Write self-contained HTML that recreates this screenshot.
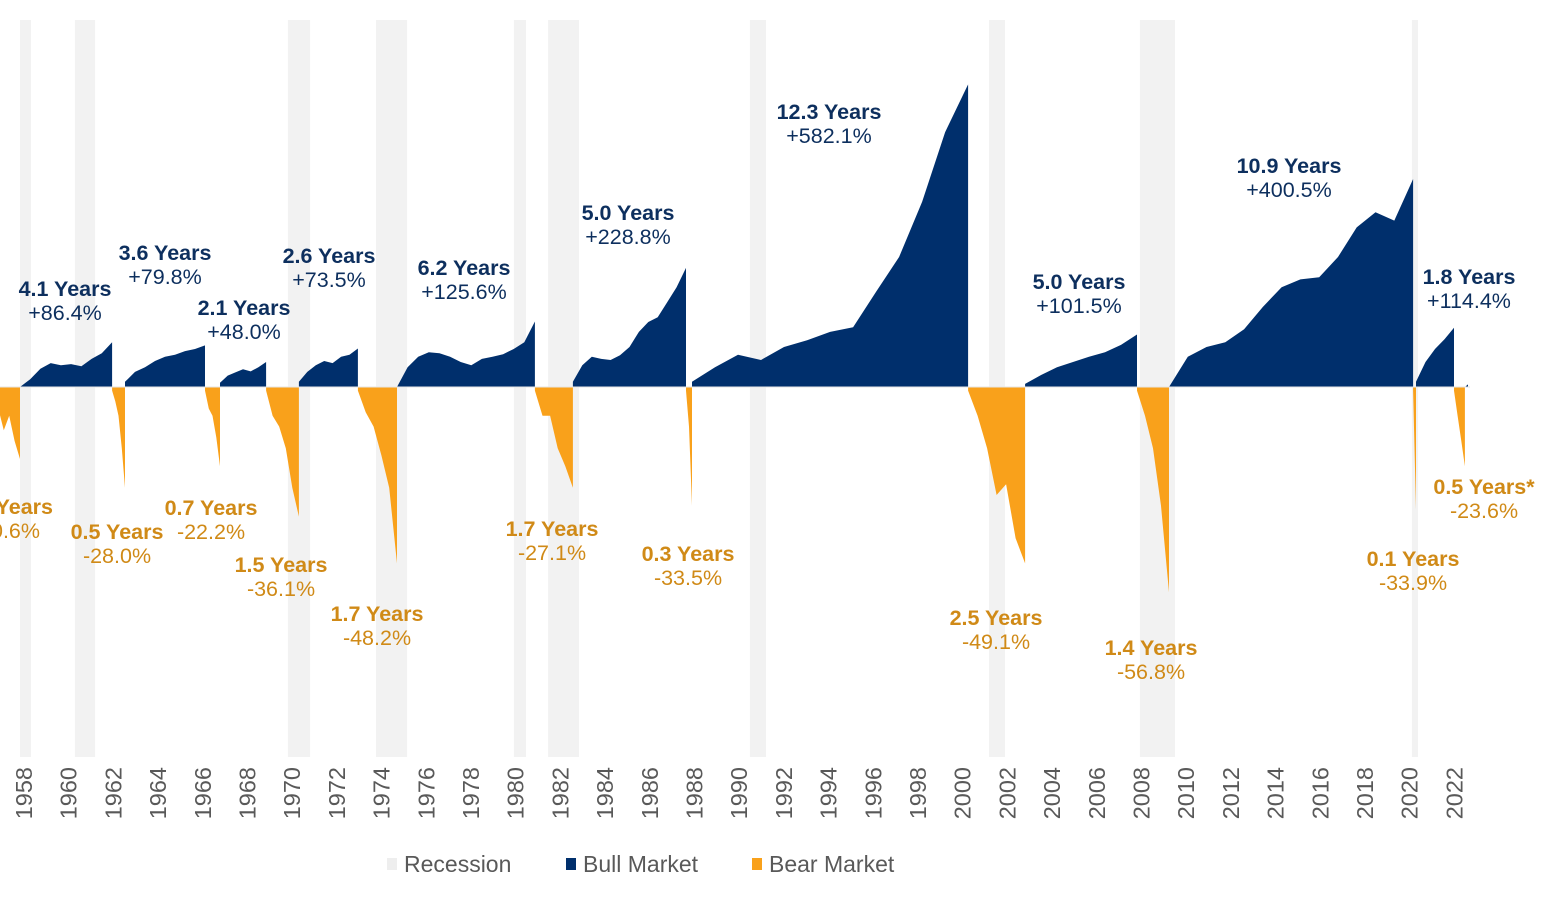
<!DOCTYPE html>
<html><head><meta charset="utf-8"><style>
html,body{margin:0;padding:0;background:#fff;}
svg{display:block;font-family:"Liberation Sans",Arial,sans-serif;}
</style></head><body>
<svg id="chart" width="1552" height="898" viewBox="0 0 1552 898" xmlns="http://www.w3.org/2000/svg">
<g id="bands"></g>
<g id="marks"></g>
<g id="labels"></g>
<g id="xaxis"></g>
<g>
  <rect x="387" y="858" width="10" height="12" fill="#eeeeee"/>
  <text x="404" y="872" font-size="23" fill="#595959">Recession</text>
  <rect x="566" y="858" width="10" height="12" fill="#002f6c"/>
  <text x="583" y="872" font-size="23" fill="#595959">Bull Market</text>
  <rect x="752" y="858" width="10" height="12" fill="#f9a11b"/>
  <text x="769" y="872" font-size="23" fill="#595959">Bear Market</text>
</g>
</svg>
<script>
const recessionStarts = [1957.82,1960.28,1969.81,1973.75,1979.92,1981.45,1990.48,2001.18,2007.93,2020.10];
const recessionEnds   = [1958.31,1961.18,1970.80,1975.14,1980.46,1982.83,1991.20,2001.89,2009.50,2020.37];

const bullStarts = [1957.82,1962.52,1966.77,1970.30,1974.69,1982.56,1987.89,2002.79,2009.23,2020.28,2022.47];
const bullEnds   = [1961.94,1966.10,1968.83,1972.94,1980.86,1987.62,2000.24,2007.80,2020.15,2021.98,2022.61];
const bullValues = [
  [0,15,35,46,42,44,40,54,65,86],
  [10,29,38,50,58,62,69,73,80],
  [8,22,28,34,30,38,48],
  [10,29,42,50,46,58,62,74],
  [0,38,58,67,65,58,48,42,54,58,63,73,86,126],
  [10,42,58,54,52,61,77,106,125,134,163,192,229],
  [10,38,62,52,77,90,106,115,183,250,356,490,582],
  [6,23,38,48,58,67,81,101],
  [0,58,77,86,111,154,192,207,211,250,307,336,320,400],
  [10,48,73,92,114],
  [0,5]
];
const bearStarts = [1956.61,1961.94,1966.10,1968.83,1972.94,1980.86,1987.62,2000.24,2007.80,2020.15,2021.98];
const bearEnds   = [1957.82,1962.52,1966.77,1970.30,1974.69,1982.56,1987.89,2002.79,2009.23,2020.28,2022.47];
const bearValues = [
  [0,-6,-12,-8,-15,-20],
  [-1,-4,-8,-17,-28],
  [-1,-6,-8,-14,-22],
  [-1,-8,-11,-17,-28,-36],
  [-1,-7,-11,-19,-28,-49],
  [-1,-8,-8,-17,-22,-28],
  [-1,-11,-33],
  [-1,-8,-17,-30,-27,-42,-49],
  [-1,-8,-17,-33,-57],
  [-1,-34],
  [-1,-8,-15,-22]
];
const tickYears = [1958,1960,1962,1964,1966,1968,1970,1972,1974,1976,1978,1980,1982,1984,1986,1988,1990,1992,1994,1996,1998,2000,2002,2004,2006,2008,2010,2012,2014,2016,2018,2020,2022];

const bullLabelYears = ["4.1 Years","3.6 Years","2.1 Years","2.6 Years","6.2 Years","5.0 Years","12.3 Years","5.0 Years","10.9 Years","1.8 Years"];
const bullLabelPcts  = ["+86.4%","+79.8%","+48.0%","+73.5%","+125.6%","+228.8%","+582.1%","+101.5%","+400.5%","+114.4%"];
const bullLabelX = [65,165,244,329,464,628,829,1079,1289,1469];
const bullLabelY = [289,253,308,256,268,213,112,282,166,277];
const bearLabelYears = ["1.3 Years","0.5 Years","0.7 Years","1.5 Years","1.7 Years","1.7 Years","0.3 Years","2.5 Years","1.4 Years","0.1 Years","0.5 Years*"];
const bearLabelPcts  = ["-20.6%","-28.0%","-22.2%","-36.1%","-48.2%","-27.1%","-33.5%","-49.1%","-56.8%","-33.9%","-23.6%"];
const bearLabelX = [6,117,211,281,377,552,688,996,1151,1413,1484];
const bearLabelY = [507,532,508,565,614,529,554,618,648,559,487];

const NS = "http://www.w3.org/2000/svg";
const BASE = 387;
function xScale(yr){ return 24 + (yr - 1958) * 22.35; }
function yBull(v){ return BASE - v * 0.52; }
function yBear(v){ return BASE - v * 3.6; }
function mk(tag, attrs){ const e = document.createElementNS(NS, tag); for (const k in attrs) e.setAttribute(k, attrs[k]); return e; }

const bands = document.getElementById('bands');
recessionStarts.forEach((s,i)=>{
  const x0 = xScale(s), x1 = xScale(recessionEnds[i]);
  const r = mk('rect', {x:x0, y:20, width:x1-x0, height:737, fill:'#f2f2f2'});
  
  
  bands.appendChild(r);
});

const marks = document.getElementById('marks');
function area(start, end, vals, yf, color, name){
  const n = vals.length;
  let d = 'M' + xScale(start).toFixed(1) + ',' + BASE;
  vals.forEach((v,j)=>{
    const yr = start + (end - start) * (n > 1 ? j/(n-1) : 0);
    d += ' L' + xScale(yr).toFixed(1) + ',' + yf(v).toFixed(1);
  });
  d += ' L' + xScale(end).toFixed(1) + ',' + BASE + ' Z';
  const p = mk('path', {d:d, fill:color});
  
  
  marks.appendChild(p);
}
bullValues.forEach((vals,i)=> area(bullStarts[i], bullEnds[i], vals, yBull, '#002f6c', 'bull-market-area'));
bearValues.forEach((vals,i)=> area(bearStarts[i], bearEnds[i], vals, yBear, '#f9a11b', 'bear-market-area'));
const baseLine = mk('line', {x1:0, x2:1470, y1:BASE, y2:BASE, stroke:'#e6e6e6', 'stroke-width':1});


marks.appendChild(baseLine);

const labels = document.getElementById('labels');
function addLabel(txt, x, y, bold, color, name, anchor){
  const t = mk('text', {x:x, y:y, 'font-size':21.5, 'text-anchor':anchor||'middle', 'dominant-baseline':'central', fill:color, 'font-weight': bold ? 'bold' : 'normal'});
  t.textContent = txt;
  
  
  labels.appendChild(t);
}
bullLabelYears.forEach((s,i)=>{
  addLabel(s, bullLabelX[i], bullLabelY[i], true, '#0d2f5e', 'bull-duration-label');
  addLabel(bullLabelPcts[i], bullLabelX[i], bullLabelY[i]+24, false, '#0d2f5e', 'bull-return-label');
});
bearLabelYears.forEach((s,i)=>{
  if (i === 0) {
    addLabel(s, 53, bearLabelY[i], true, '#d08a17', 'bear-duration-label', 'end');
    addLabel(bearLabelPcts[i], 40, bearLabelY[i]+24, false, '#d08a17', 'bear-return-label', 'end');
  } else {
    addLabel(s, bearLabelX[i], bearLabelY[i], true, '#d08a17', 'bear-duration-label');
    addLabel(bearLabelPcts[i], bearLabelX[i], bearLabelY[i]+24, false, '#d08a17', 'bear-return-label');
  }
});

const xaxis = document.getElementById('xaxis');
tickYears.forEach(yr=>{
  const x = xScale(yr);
  const t = mk('text', {x:0, y:0, 'font-size':23.5, 'text-anchor':'end', 'dominant-baseline':'central', fill:'#595959', transform:'translate('+x.toFixed(1)+',767) rotate(-90)'});
  t.textContent = String(yr);
  
  
  xaxis.appendChild(t);
});
</script>
</body></html>
